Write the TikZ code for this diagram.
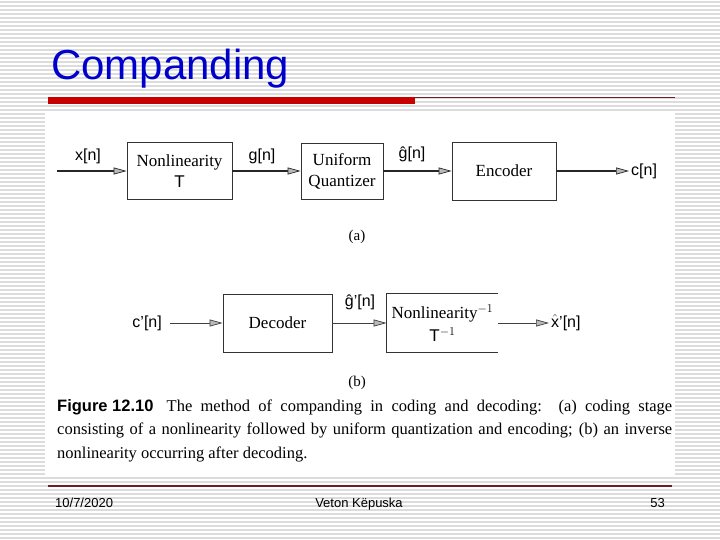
\documentclass[tikz,border=0pt]{standalone}
\usepackage{fontspec}
\setmainfont{Liberation Serif}
\setsansfont{Liberation Sans}
\usetikzlibrary{arrows.meta}
\definecolor{titleblue}{RGB}{0,0,204}
\definecolor{barred}{RGB}{200,0,0}
\definecolor{linered}{RGB}{110,30,40}
\definecolor{stripe}{RGB}{220,220,220}
\begin{document}
\begin{tikzpicture}[x=1pt,y=-1pt,
  blockbox/.style={draw=black!80, line width=0.8pt, align=center, inner sep=0pt,
    font=\fontsize{17}{21}\selectfont},
  sig/.style={font=\fontsize{16}{16}\sffamily, inner sep=2pt},
  sub/.style={font=\fontsize{15}{15}\selectfont},
  arrtop/.style={draw=black!85, line width=1.5pt, -{Triangle[length=13pt,width=7pt,fill=gray!55,line width=0.7pt]}},
  arrbot/.style={draw=black!75, line width=1pt, -{Triangle[length=13pt,width=7pt,fill=gray!55,line width=0.7pt]}}]
\useasboundingbox (0,0) rectangle (720,540);
\fill[white] (0,0) rectangle (720,540);
\foreach \yy in {2,6,...,538} \draw[stripe, line width=1.2pt] (0,\yy) -- (720,\yy);
% title
\node[anchor=base west, inner sep=0pt, text=titleblue, font=\fontsize{42}{42}\sffamily] (title) at (51,80) {Companding};
\fill[barred] (48,97) rectangle (415,104);
\draw[linered, line width=1.2pt] (415,97.6) -- (675,97.6);
% figure area
\fill[white] (45,113) rectangle (675,475);
% (a) row
\coordinate (xin) at (57,171);
\node[blockbox, minimum width=105pt, minimum height=57pt] (nl) at (179.5,171) {Nonlinearity\\ \textsf{T}};
\node[blockbox, minimum width=82pt, minimum height=56pt] (uq) at (342,171) {Uniform\\Quantizer};
\node[blockbox, minimum width=104pt, minimum height=58pt] (enc) at (504,171) {Encoder};
\node[sig, anchor=west] (cn) at (629,171) {c[n]};
\node[sig] (xn) at (88,156) {x[n]};
\node[sig] (gn) at (262,156) {g[n]};
\node[sig] (ghn) at (412,154) {ĝ[n]};
\draw[arrtop] (xin) -- (nl.west);
\draw[arrtop] (nl.east) -- (uq.west);
\draw[arrtop] (uq.east) -- (enc.west);
\draw[arrtop] (enc.east) -- (cn.west);
\node[sub] (la) at (357,237) {(a)};
% (b) row
\node[sig, anchor=east] (cpn) at (164,323) {c'[n]};
\node[blockbox, minimum width=109pt, minimum height=58pt] (dec) at (277.5,323) {Decoder};
\node[blockbox, draw=none, minimum width=111pt, minimum height=58pt, font=\fontsize{17}{23}\selectfont] (ni) at (442.5,323) {Nonlinearity$^{-1}$\\ \textsf{T}$^{-1}$};
\draw[black!80, line width=0.8pt] (ni.north east) -- (ni.north west) -- (ni.south west) -- (ni.south east);
\node[sig] (gpn) at (360,302) {ĝ'[n]};
\node[sig, anchor=west] (xhn) at (549,323) {$\hat{\textsf{x}}$'[n]};
\draw[arrbot] (cpn.east) ++(6,0) -- (dec.west);
\draw[arrbot] (dec.east) -- (ni.west);
\draw[arrbot] (ni.east) -- (xhn.west);
\node[sub] (lb) at (357,383) {(b)};
% caption
\node[anchor=north west, inner sep=0pt, text width=615pt, align=justify,
  font=\fontsize{16.5}{23.5}\selectfont] (cap) at (57,399)
  {\hbox{\textbf{\textsf{Figure 12.10}}}\hspace{0.8em}The method of companding in coding and decoding:\ \ (a) coding stage\linebreak consisting of a nonlinearity followed by uniform quantization and encoding; (b) an inverse\linebreak nonlinearity occurring after decoding.};
% footer
\draw[linered, line width=1.5pt] (48,486) -- (672,486);
\node[anchor=base west, inner sep=0pt, font=\fontsize{13}{13}\sffamily] (date) at (55,507) {10/7/2020};
\node[anchor=base, inner sep=0pt, font=\fontsize{13}{13}\sffamily] (auth) at (359,507) {Veton Këpuska};
\node[anchor=base east, inner sep=0pt, font=\fontsize{13}{13}\sffamily] (pg) at (665,507) {53};
\end{tikzpicture}
\end{document}
